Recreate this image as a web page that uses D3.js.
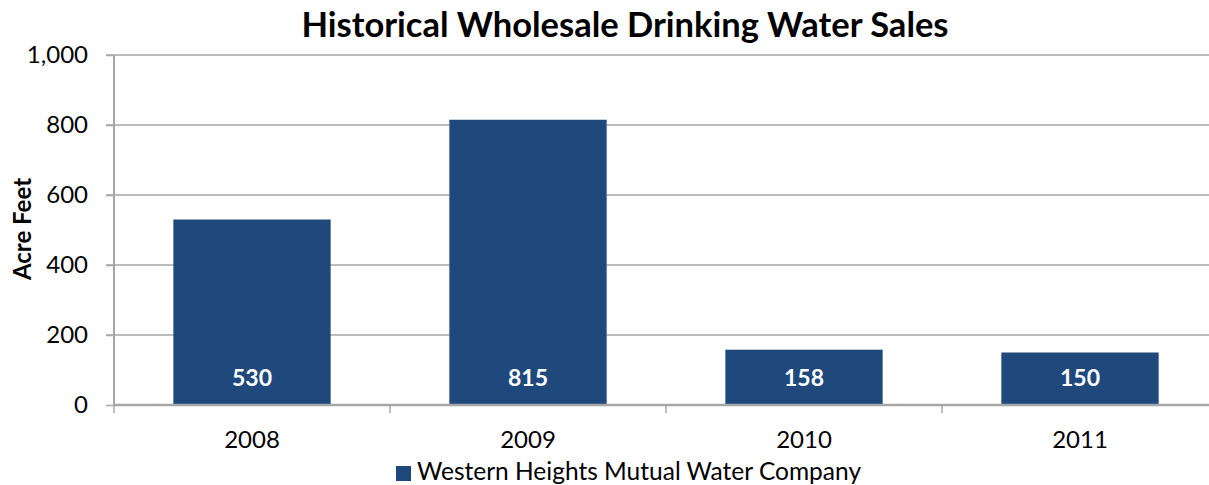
<!DOCTYPE html>
<html>
<head>
<meta charset="utf-8">
<script src="https://cdn.jsdelivr.net/npm/d3@7"></script>
<style>
  body { margin: 0; background: #fff; }
  svg { display: block; font-family: Lato, "Open Sans", sans-serif; }
</style>
</head>
<body>
<svg id="chart" width="1209" height="485"></svg>
<script>
// chart data
let years = ["2008", "2009", "2010", "2011"];
let sales = [530, 815, 158, 150];
let yTicks = [0, 200, 400, 600, 800, 1000];
let seriesName = "Western Heights Mutual Water Company";

let barColor = "#1F497D";
let gridColor = "#A6A6A6";

var drawChart = function() {
  let svg = d3.select("#chart");
  let margin = { top: 55, left: 114, bottom: 80 };
  let plotHeight = 405 - margin.top;
  let plotWidth = 1104; // plot runs past the right edge

  let yScale = d3.scaleLinear()
    .domain([0, 1000])
    .range([plotHeight, 0]);

  let xScale = d3.scaleBand()
    .domain(years)
    .range([0, plotWidth])
    .paddingInner(0.43)
    .paddingOuter(0.215);

  let plot = svg.append("g")
    .attr("transform", "translate(" + margin.left + "," + margin.top + ")");

  // gridlines
  plot.append("g")
    .selectAll("line")
    .data(yTicks.filter(d => d > 0))
    .enter().append("line")
    .attr("x1", -8)
    .attr("x2", plotWidth)
    .attr("y1", d => yScale(d))
    .attr("y2", d => yScale(d))
    .attr("stroke", gridColor)
    .attr("stroke-width", 1.5);

  // bars
  plot.selectAll("rect.bar")
    .data(sales)
    .enter().append("rect")
    .attr("class", "bar")
    .attr("x", (d, i) => xScale(years[i]))
    .attr("y", d => yScale(d))
    .attr("width", xScale.bandwidth())
    .attr("height", d => plotHeight - yScale(d))
    .attr("fill", barColor);

  // value labels
  plot.selectAll("text.val")
    .data(sales)
    .enter().append("text")
    .attr("class", "val")
    .attr("x", (d, i) => xScale(years[i]) + xScale.bandwidth() / 2)
    .attr("y", plotHeight - 19)
    .attr("text-anchor", "middle")
    .attr("fill", "#fff")
    .style("font-size", "23px")
    .style("font-weight", "bold")
    .text(d => d);

  // y axis
  let yAxis = d3.axisLeft(yScale)
    .tickValues(yTicks)
    .tickSize(8)
    .tickPadding(18)
    .tickFormat(d3.format(","));
  let yGroup = plot.append("g").call(yAxis);
  yGroup.select(".domain").attr("stroke", gridColor).attr("stroke-width", 2)
    .attr("d", "M0,0V" + plotHeight);
  yGroup.selectAll(".tick line").attr("stroke", gridColor).attr("stroke-width", 1.5);
  yGroup.selectAll(".tick text")
    .attr("fill", "#000")
    .style("font-size", "24px")
    .style("font-family", "Lato, sans-serif");

  // x axis with ticks between categories
  let xGroup = plot.append("g").attr("transform", "translate(0," + plotHeight + ")");
  xGroup.append("line")
    .attr("x1", 0).attr("x2", plotWidth)
    .attr("stroke", gridColor).attr("stroke-width", 2.5);
  let bounds = d3.range(years.length + 1).map(i => i * plotWidth / years.length);
  xGroup.selectAll("line.tk")
    .data(bounds)
    .enter().append("line")
    .attr("class", "tk")
    .attr("x1", d => d).attr("x2", d => d)
    .attr("y1", 0).attr("y2", 8)
    .attr("stroke", gridColor).attr("stroke-width", 1.5);
  xGroup.selectAll("text")
    .data(years)
    .enter().append("text")
    .attr("x", d => xScale(d) + xScale.bandwidth() / 2)
    .attr("y", 43)
    .attr("text-anchor", "middle")
    .attr("fill", "#000")
    .style("font-size", "24px")
    .text(d => d);

  // title
  svg.append("text")
    .attr("x", 625)
    .attr("y", 37)
    .attr("text-anchor", "middle")
    .style("font-size", "34.5px")
    .style("font-weight", "bold")
    .text("Historical Wholesale Drinking Water Sales");

  // y label
  svg.append("text")
    .attr("transform", "translate(31,229) rotate(-90)")
    .attr("text-anchor", "middle")
    .style("font-size", "24px")
    .style("font-weight", "bold")
    .text("Acre Feet");

  // legend
  let legend = svg.append("g").attr("transform", "translate(396,466)");
  legend.append("rect")
    .attr("width", 15).attr("height", 15)
    .attr("fill", barColor);
  legend.append("text")
    .attr("x", 21)
    .attr("y", 14)
    .style("font-size", "24.5px")
    .text(seriesName);
}

drawChart();
</script>
</body>
</html>
